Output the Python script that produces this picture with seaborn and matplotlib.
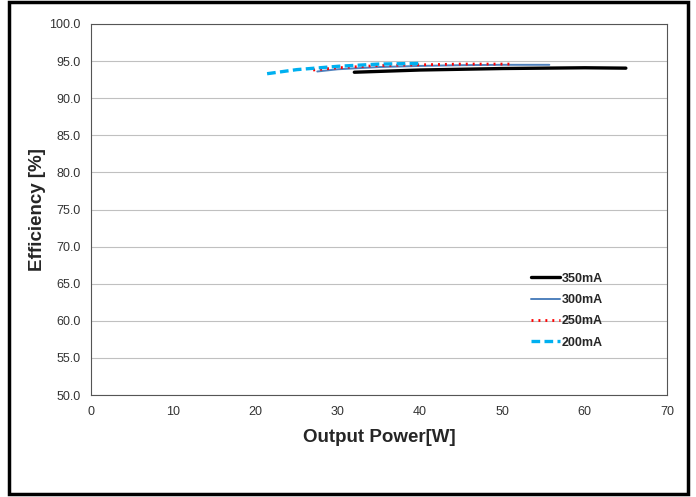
import pandas as pd
import matplotlib
matplotlib.use("Agg")
import matplotlib.pyplot as plt
import seaborn as sns
from matplotlib.patches import Rectangle

# data
p_350 = [32.0, 36.0, 40.0, 45.0, 50.0, 55.0, 60.0, 65.0]
e_350 = [93.5, 93.65, 93.8, 93.9, 94.0, 94.05, 94.1, 94.05]
p_300 = [27.5, 30.0, 35.0, 40.0, 45.0, 50.0, 55.7]
e_300 = [93.6, 93.9, 94.2, 94.35, 94.45, 94.5, 94.5]
p_250 = [27.0, 30.0, 35.0, 40.0, 45.0, 51.0]
e_250 = [93.8, 94.1, 94.4, 94.5, 94.6, 94.6]
p_200 = [21.4, 25.0, 30.0, 35.0, 40.3]
e_200 = [93.3, 93.85, 94.3, 94.6, 94.7]
series = ["350mA", "300mA", "250mA", "200mA"]

df = pd.concat([
    pd.DataFrame({"P": p, "E": e, "I": s})
    for p, e, s in zip([p_350, p_300, p_250, p_200],
                       [e_350, e_300, e_250, e_200], series)
])

sns.set_style("white")
plt.rcParams['font.family'] = ['Liberation Sans', 'DejaVu Sans']

fig = plt.figure(figsize=(6.96, 4.97), dpi=100)
ax = fig.add_axes([91/696, 1-395/497, (667-91)/696, (395-24)/497])

palette = {"350mA": "black", "300mA": "#4f81bd", "250mA": "red", "200mA": "#00b0f0"}
sns.lineplot(data=df, x="P", y="E", hue="I", hue_order=series, palette=palette,
             sort=False, estimator=None, ax=ax, legend=False)
styles = {"350mA": (2.4, "-"), "300mA": (1.4, "-"), "250mA": (2.0, (0, (0.7, 1.8))),
          "200mA": (2.4, (0, (2.6, 1.3)))}
for line, s in zip(ax.lines, series):
    lw, ls = styles[s]
    line.set_linewidth(lw)
    line.set_linestyle(ls)
    line.set_label(s)

ax.set_xlim(0, 70)
ax.set_ylim(50, 100)
ax.set_xticks(range(0, 71, 10))
ax.set_yticks(range(50, 101, 5))
ax.set_yticklabels([f"{v:.1f}" for v in range(50, 101, 5)])
ax.grid(axis="y", color="#c0c0c0", linewidth=0.8)
ax.set_axisbelow(True)
for sp in ax.spines.values():
    sp.set_color("#555555")
    sp.set_linewidth(0.8)
ax.tick_params(length=0, labelsize=9, colors="#333333")
ax.tick_params(axis="y", pad=7.5)
ax.tick_params(axis="x", pad=8)

ax.set_xlabel("Output Power[W]", fontsize=13.5, fontweight="bold", labelpad=8)
ax.set_ylabel("Efficiency [%]", fontsize=13.5, fontweight="bold", labelpad=2)

leg = ax.legend(loc="upper left", bbox_to_anchor=(0.745, 0.36), frameon=False,
                prop={"size": 9, "weight": "bold"}, handlelength=2.3,
                handletextpad=0.15, labelspacing=0.75)

fig.patches.append(Rectangle((9/696, 3/497), 679/696, 492/497, transform=fig.transFigure,
                             fill=False, edgecolor="black", linewidth=2.5))

fig.savefig("out.png", dpi=100)
